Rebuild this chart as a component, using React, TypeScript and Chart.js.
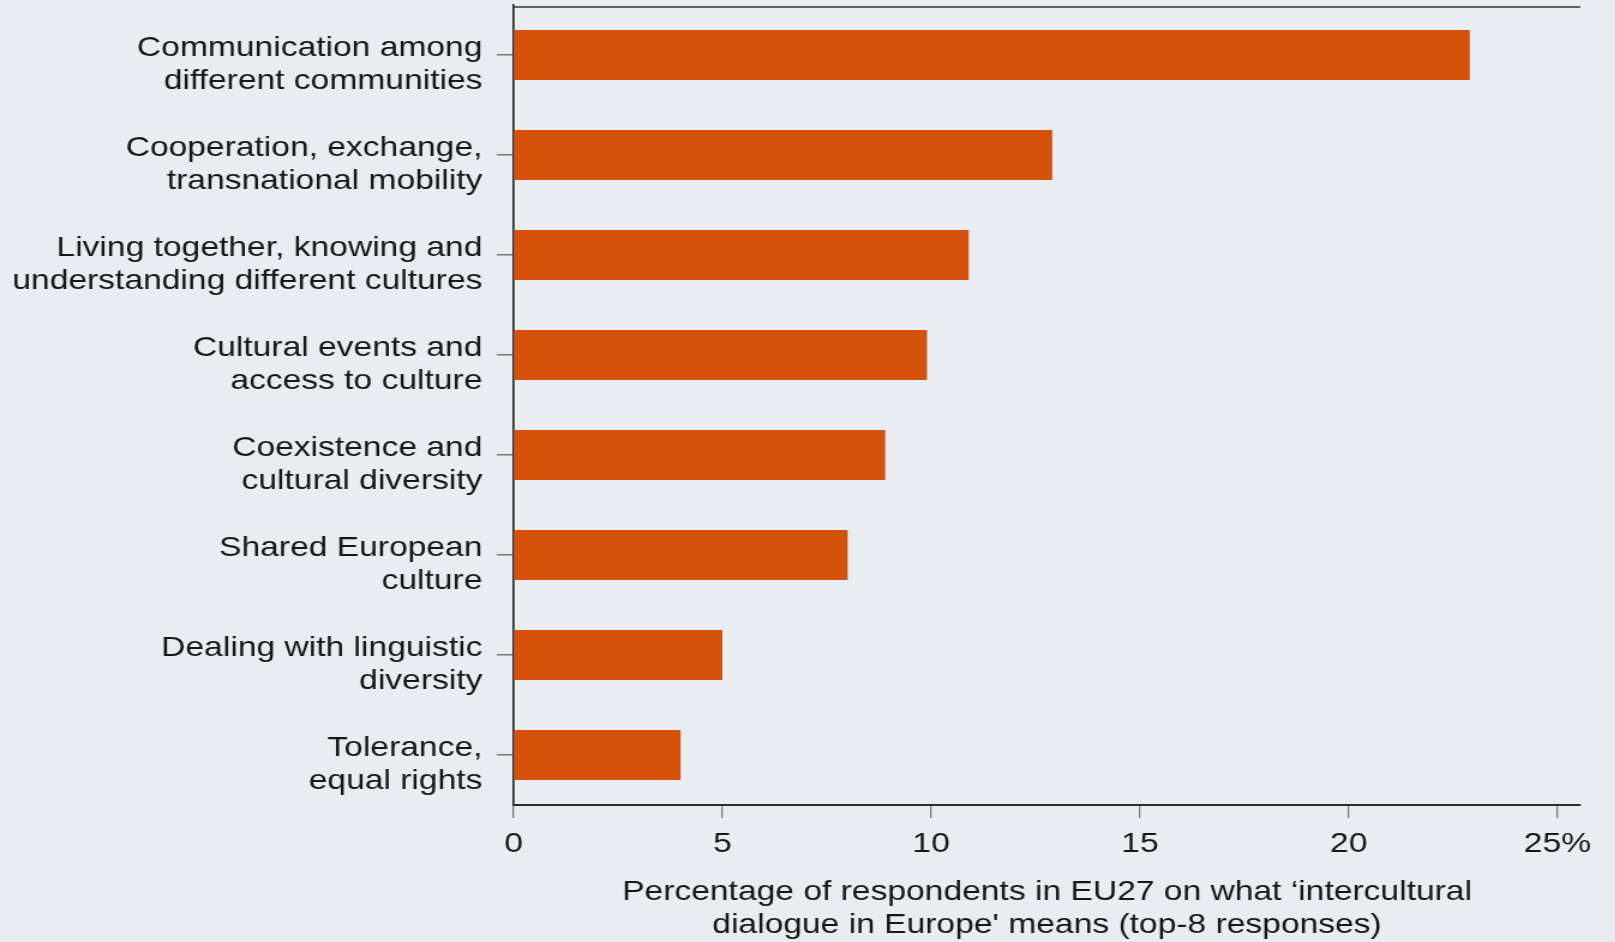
import React, { useEffect, useRef } from "react";
import { Chart, registerables } from "chart.js";

Chart.register(...registerables);

// ---- Data ----
const categories: string[][] = [
  ["Communication among", "different communities"],
  ["Cooperation, exchange,", "transnational mobility"],
  ["Living together, knowing and", "understanding different cultures"],
  ["Cultural events and", "access to culture"],
  ["Coexistence and", "cultural diversity"],
  ["Shared European", "culture"],
  ["Dealing with linguistic", "diversity"],
  ["Tolerance,", "equal rights"],
];
const percentages: number[] = [22.9, 12.9, 10.9, 9.9, 8.9, 8.0, 5.0, 4.0];
const xTickValues: number[] = [0, 5, 10, 15, 20, 25];
const xAxisMin = 0;
const xAxisMax = 25.55;
const xTitleLines: string[] = [
  "Percentage of respondents in EU27 on what \u2018intercultural",
  "dialogue in Europe' means (top-8 responses)",
];

const FONT = '"Liberation Sans", Arial, Helvetica, sans-serif';
const TEXT = "#161616";
const BG = "#e9ecf0";
const BAR = "#d4520a";

// the original figure is horizontally stretched; reproduce with a horizontal scale
const STRETCH = 1.2;
const CANVAS_W = 1346;
const CANVAS_H = 942;

const topLinePlugin = {
  id: "topLine",
  afterDraw(chart: any) {
    const { ctx, chartArea } = chart;
    ctx.save();
    ctx.strokeStyle = "#333";
    ctx.lineWidth = 1.5;
    ctx.beginPath();
    ctx.moveTo(chartArea.left, chartArea.top + 2);
    ctx.lineTo(chartArea.right, chartArea.top + 2);
    ctx.stroke();
    ctx.restore();
  },
};

export default function App() {
  const ref = useRef<HTMLCanvasElement | null>(null);

  useEffect(() => {
    document.body.style.margin = "0";
    const canvas = ref.current;
    if (!canvas) return;
    const chart = new Chart(canvas, {
      type: "bar",
      data: {
        labels: categories,
        datasets: [
          {
            data: percentages,
            backgroundColor: BAR,
            borderWidth: 0,
            barPercentage: 0.5,
            categoryPercentage: 1,
          },
        ],
      },
      options: {
        indexAxis: "y",
        responsive: false,
        animation: false,
        devicePixelRatio: 1,
        layout: { padding: { top: 5, right: 29, bottom: 0, left: 0 } },
        plugins: {
          legend: { display: false },
          tooltip: { enabled: false },
        },
        scales: {
          x: {
            type: "linear",
            min: xAxisMin,
            max: xAxisMax,
            afterBuildTicks: (s: any) => {
              s.ticks = xTickValues.map((v) => ({ value: v }));
            },
            ticks: {
              callback: (v: any) => (Number(v) === 25 ? "25%" : String(v)),
              font: { family: FONT, size: 28 },
              color: TEXT,
              padding: 9,
              maxRotation: 0,
              autoSkip: false,
            },
            grid: {
              drawOnChartArea: false,
              drawTicks: true,
              tickLength: 13,
              color: "#777",
              lineWidth: 1.25,
            },
            border: { display: true, color: "#2b2b2b", width: 2 },
            title: {
              display: true,
              text: xTitleLines,
              font: { family: FONT, size: 28, lineHeight: 1.18 },
              color: TEXT,
              padding: { top: 0, bottom: 0 },
            },
            afterFit: (s: any) => {
              s.height = 137;
              s.paddingLeft = 0;
              s.paddingRight = 0;
            },
          },
          y: {
            type: "category",
            offset: true,
            ticks: {
              font: { family: FONT, size: 28, lineHeight: 1.18 },
              color: TEXT,
              padding: 12,
              labelOffset: 10,
              autoSkip: false,
            },
            grid: {
              drawOnChartArea: false,
              drawTicks: true,
              tickLength: 14,
              color: "#777",
              lineWidth: 1.5,
              offset: false,
            },
            border: { display: true, color: "#2b2b2b", width: 1.7 },
            afterFit: (s: any) => {
              s.width = 428;
              s.paddingTop = 0;
              s.paddingBottom = 0;
            },
          },
        },
      },
      plugins: [topLinePlugin],
    } as any);
    return () => chart.destroy();
  }, []);

  return (
    <div
      style={{
        position: "fixed",
        left: 0,
        top: 0,
        width: 1615,
        height: 942,
        background: BG,
        overflow: "hidden",
      }}
    >
      <canvas
        ref={ref}
        width={CANVAS_W}
        height={CANVAS_H}
        style={{
          display: "block",
          transform: `scaleX(${STRETCH})`,
          transformOrigin: "0 0",
        }}
      />
    </div>
  );
}
